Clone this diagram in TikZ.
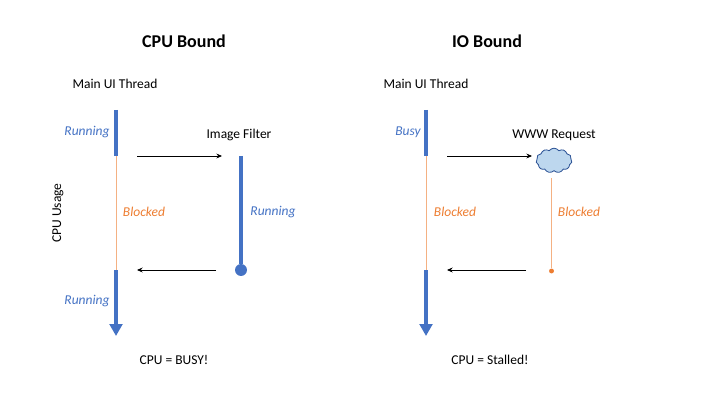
\documentclass[tikz,border=0pt]{standalone}
\usepackage{fontspec}
\setmainfont{Carlito}
\usetikzlibrary{positioning, arrows.meta, shapes.symbols}
\definecolor{SlideBlue}{HTML}{4472C4}
\definecolor{SlideOrange}{HTML}{ED7D31}
\definecolor{SlidePeach}{HTML}{F4B183}
\definecolor{CloudFill}{HTML}{BDD7EE}
\definecolor{CloudLine}{HTML}{2F5597}

\begin{document}
\begin{tikzpicture}[
        x=0.025cm, y=-0.025cm,
        heading/.style={font=\fontsize{12.8}{15}\selectfont\bfseries},
        label/.style={font=\fontsize{9.6}{11}\selectfont},
        running/.style={font=\fontsize{9.6}{11}\selectfont\itshape, color=SlideBlue},
        blocked/.style={font=\fontsize{9.6}{11}\selectfont\itshape, color=SlideOrange},
        busyline/.style={line width=3.2pt, color=SlideBlue},
        waitline/.style={line width=0.6pt, color=SlidePeach},
        usearrow/.style={line width=3.2pt, color=SlideBlue, -{Triangle[length=8.5pt,width=9pt]}},
        call/.style={line width=0.6pt, -{Stealth[length=4pt,width=3.5pt]}}
    ]
    \useasboundingbox (0,0) rectangle (720,405);

    % Titles
    \node (cpuTitle) [heading] at (184,41) {CPU Bound};
    \node (ioTitle) [heading] at (487,41) {IO Bound};

    % CPU bound side
    \node (cpuMain) [label] at (115,84) {Main UI Thread};
    \node (imageFilter) [label] at (239,135) {Image Filter};
    \node (cpuUsage) [label, rotate=90] at (58,213) {CPU Usage};
    \node (cpuRun1) [running] at (87,132) {Running};
    \node (cpuBlocked) [blocked] at (144,212) {Blocked};
    \node (filterRun) [running] at (273,212) {Running};
    \node (cpuRun2) [running] at (87,301) {Running};
    \node (cpuResult) [label] at (174,360) {CPU = BUSY!};

    \coordinate (a1) at (116,110);
    \coordinate (a2) at (116,156);
    \coordinate (a3) at (116,270);
    \coordinate (a4) at (116,336);
    \coordinate (f1) at (241,156);
    \node (filterEnd) [circle, fill=SlideBlue, inner sep=0pt, minimum size=8.5pt] at (241,270) {};
    \coordinate (c1) at (137,156);
    \coordinate (c2) at (222,156);
    \coordinate (c3) at (216,270);
    \coordinate (c4) at (137,270);

    \draw [busyline] (a1) -- (a2);
    \draw [waitline] (a2) -- (a3);
    \draw [usearrow] (a3) -- (a4);
    \draw [busyline] (f1) -- (filterEnd);
    \draw [call] (c1) -- (c2);
    \draw [call] (c3) -- (c4);

    % IO bound side
    \node (ioMain) [label] at (426,84) {Main UI Thread};
    \node (wwwRequest) [label] at (554,135) {WWW Request};
    \node (ioBusy) [running] at (408,132) {Busy};
    \node (ioBlocked) [blocked] at (455,212) {Blocked};
    \node (wwwBlocked) [blocked] at (579,212) {Blocked};
    \node (ioResult) [label] at (490,360) {CPU = Stalled!};

    \coordinate (b1) at (426,110);
    \coordinate (b2) at (426,156);
    \coordinate (b3) at (426,270);
    \coordinate (b4) at (426,336);
    \node (cloud) [cloud, cloud puffs=11, cloud puff arc=110, aspect=1.5, draw=CloudLine, fill=CloudFill,
        line width=0.6pt, inner sep=0pt, minimum width=25.5pt, minimum height=17.5pt] at (554,160.5) {};
    \coordinate (w1) at (551.5,178);
    \node (wwwEnd) [circle, fill=SlideOrange, inner sep=0pt, minimum size=3.5pt] at (551.5,271) {};
    \coordinate (d1) at (447,156);
    \coordinate (d2) at (532,156);
    \coordinate (d3) at (526,270);
    \coordinate (d4) at (447,270);

    \draw [busyline] (b1) -- (b2);
    \draw [waitline] (b2) -- (b3);
    \draw [usearrow] (b3) -- (b4);
    \draw [waitline] (w1) -- (wwwEnd);
    \draw [call] (d1) -- (d2);
    \draw [call] (d3) -- (d4);
\end{tikzpicture}
\end{document}
